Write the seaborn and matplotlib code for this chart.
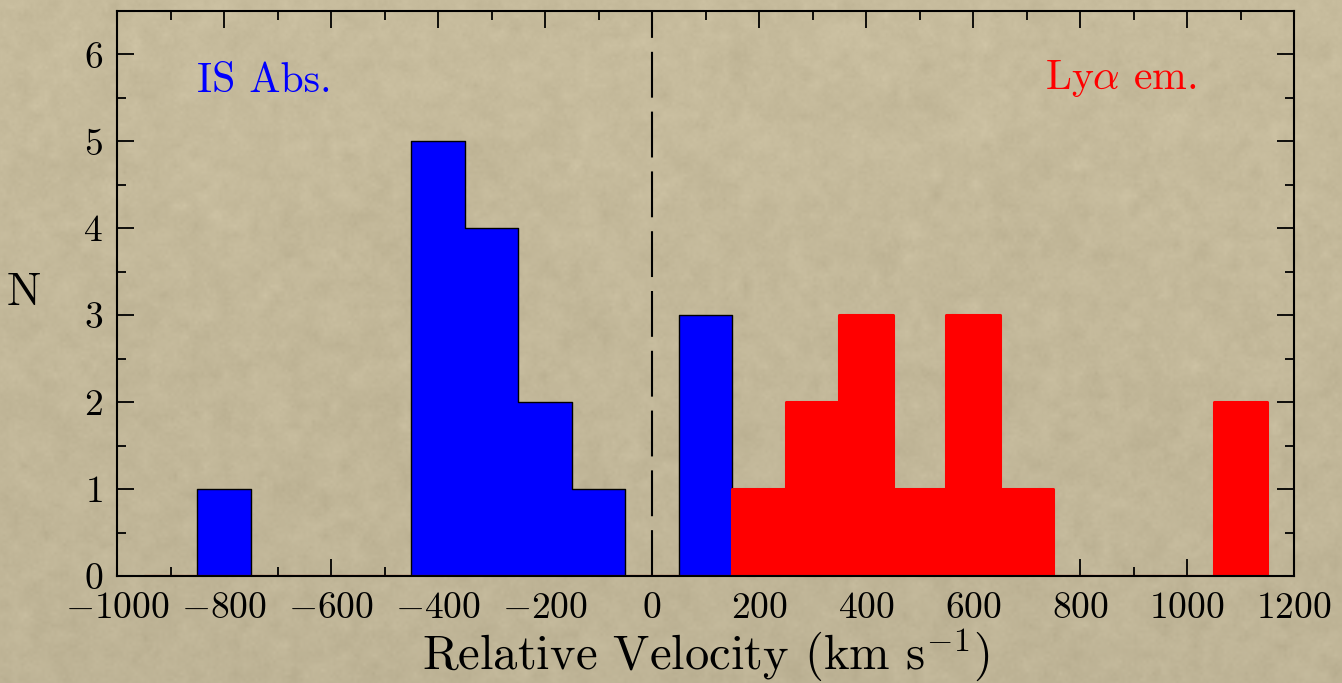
import numpy as np
import pandas as pd
import matplotlib
matplotlib.use("Agg")
import matplotlib.pyplot as plt
from matplotlib.ticker import MultipleLocator
import seaborn as sns

# Velocity bins (km/s), 100 km/s wide
bin_centers = [-900, -800, -700, -600, -500, -400, -300, -200, -100, 0,
               100, 200, 300, 400, 500, 600, 700, 800, 900, 1000, 1100]
# Interstellar absorption line offsets
is_abs_counts = [0, 1, 0, 0, 0, 5, 4, 2, 1, 0,
                 3, 0, 0, 0, 0, 0, 0, 0, 0, 0, 0]
# Lyman-alpha emission offsets
lya_em_counts = [0, 0, 0, 0, 0, 0, 0, 0, 0, 0,
                 0, 1, 2, 3, 1, 3, 1, 0, 0, 0, 2]

x_ticks = [-1000, -800, -600, -400, -200, 0, 200, 400, 600, 800, 1000, 1200]
y_ticks = [0, 1, 2, 3, 4, 5, 6]

abs_v = pd.DataFrame({"v": np.repeat(bin_centers, is_abs_counts).astype(float)})
lya_v = pd.DataFrame({"v": np.repeat(bin_centers, lya_em_counts).astype(float)})
edges = [c - 50 for c in bin_centers] + [bin_centers[-1] + 50]

sns.set_style("ticks")
plt.rcParams["font.family"] = ["cmr10", "DejaVu Serif"]
plt.rcParams["mathtext.fontset"] = "cm"
plt.rcParams["axes.formatter.use_mathtext"] = True
plt.rcParams["axes.unicode_minus"] = True
for key in ["text.color", "axes.labelcolor", "xtick.color", "ytick.color",
            "xtick.labelcolor", "ytick.labelcolor"]:
    plt.rcParams[key] = "black"

W, H, DPI = 1342, 683, 100
fig = plt.figure(figsize=(W / DPI, H / DPI), dpi=DPI)

# Parchment-style backdrop
bg_ax = fig.add_axes([0, 0, 1, 1], zorder=-10)
rng = np.random.default_rng(7)
tex = np.zeros((H, W))
for scale, amp in [(3, 0.6), (10, 1.0), (30, 0.5)]:
    small = rng.normal(size=(H // scale + 2, W // scale + 2))
    big = np.kron(small, np.ones((scale, scale)))[:H, :W]
    k = np.ones(scale) / scale
    big = np.apply_along_axis(lambda r: np.convolve(r, k, mode="same"), 1, big)
    big = np.apply_along_axis(lambda c: np.convolve(c, k, mode="same"), 0, big)
    tex += amp * big / (big.std() + 1e-9)
tex = tex / tex.std()
base = np.array([199, 188, 157]) / 255.0
yy = np.linspace(0, 1, H)[:, None]
shade = 1.0 - 0.04 * yy
img = np.clip(base[None, None, :] * shade[..., None] + 0.008 * tex[..., None], 0, 1)
bg_ax.imshow(img, aspect="auto", interpolation="bilinear")
bg_ax.axis("off")

ax = fig.add_axes([117 / W, 1 - 576 / H, (1294 - 117) / W, (576 - 11) / H])
ax.set_facecolor("none")

sns.histplot(data=abs_v, x="v", bins=edges, element="step",
             fill=True, color="blue", alpha=1.0, edgecolor="black",
             linewidth=1.0, ax=ax, zorder=2)
sns.histplot(data=lya_v, x="v", bins=edges, element="step",
             fill=True, color="red", alpha=1.0, edgecolor="red",
             linewidth=2.2, ax=ax, zorder=3)

ax.axvline(0, color="black", linewidth=1.5, dashes=(22, 6.7), zorder=1)

ax.set_xlim(-1000, 1200)
ax.set_ylim(0, 6.5)
ax.set_xticks(x_ticks)
ax.set_yticks(y_ticks)
ax.xaxis.set_minor_locator(MultipleLocator(100))
ax.yaxis.set_minor_locator(MultipleLocator(0.5))
ax.tick_params(which="both", direction="in", top=True, right=True,
               width=1.3, color="black", labelsize=27)
ax.tick_params(axis="x", which="major", pad=11.5)
ax.tick_params(axis="y", which="major", pad=10)
ax.tick_params(which="major", length=12)
ax.tick_params(which="minor", length=6.5)
for s in ax.spines.values():
    s.set_linewidth(1.5)
    s.set_color("black")
    s.set_zorder(5)

ax.set_xlabel(r"Relative Velocity (km s$^{-1}$)", fontsize=35)
ax.xaxis.label.set_va("baseline")
ax.xaxis.set_label_coords(0.5, -0.164)
ax.set_ylabel("N", fontsize=33, rotation=0, ha="center", va="center")
ax.yaxis.set_label_coords(-0.079, 0.5)

ax.text(-850, 5.57, "IS Abs.", color="blue", fontsize=30, ha="left", va="baseline")
ax.text(735, 5.6, r"Ly$\alpha$ em.", color="red", fontsize=30, ha="left", va="baseline")

fig.savefig("out.png", dpi=DPI)
